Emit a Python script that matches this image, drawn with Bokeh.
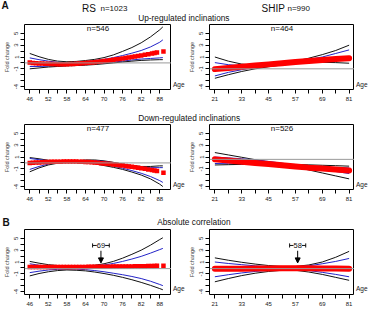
from bokeh.plotting import figure
from bokeh.layouts import column, row
from bokeh.models import Range1d, FixedTicker, Label, Arrow, NormalHead, Span
from bokeh.embed import file_html
from bokeh.resources import INLINE

FONT = "Liberation Sans"
BLACK = "#111111"
BLUE = "#2424c8"
RED = "#ff0000"
GRAY = "#9a9a9a"

# ---------------- data ----------------
# age grids on which the confidence curves are drawn
rs_grid = [46, 49, 52, 55, 58, 61, 64, 67, 70, 73, 76, 79, 82, 85, 88, 89]
ship_grid = [21, 27, 33, 39, 45, 51, 57, 63, 69, 75, 81]

# ages of the fitted RS points (red squares)
rs_pts_age = list(range(46, 83)) + [83.2, 84.3, 85.5, 86.3, 87.1, 89.2]

# RS, up-regulated inclinations
rs_up_black_hi = [1.6, 1.05, 0.6, 0.3, 0.2, 0.25, 0.4, 0.6, 0.9, 1.35, 1.95, 2.6, 3.4, 4.4, 5.6, 6.1]
rs_up_blue_hi = [0.85, 0.55, 0.3, 0.1, 0.05, 0.1, 0.2, 0.4, 0.6, 0.9, 1.25, 1.65, 2.1, 2.7, 3.5, 3.9]
rs_up_blue_lo = [-0.6, -0.6, -0.55, -0.5, -0.45, -0.4, -0.3, -0.15, -0.05, 0.15, 0.3, 0.5, 0.65, 0.75, 0.85, 0.9]
rs_up_black_lo = [-1.0, -0.85, -0.7, -0.6, -0.5, -0.45, -0.38, -0.28, -0.15, 0.0, 0.15, 0.3, 0.42, 0.5, 0.55, 0.55]
rs_up_fit = [0.05, 0.0, -0.04, -0.08, -0.11, -0.14, -0.16, -0.18, -0.2, -0.21, -0.22, -0.22,
             -0.21, -0.19, -0.17, -0.14, -0.1, -0.06, -0.02, 0.03, 0.08, 0.13, 0.19, 0.25,
             0.31, 0.38, 0.45, 0.52, 0.6, 0.68, 0.76, 0.84, 0.92, 1.0, 1.09, 1.18, 1.27,
             1.38, 1.48, 1.6, 1.67, 1.75, 1.95]
rs_up_ref = 0.0
rs_up_n = "n=546"

# SHIP, up-regulated inclinations
ship_up_black_hi = [1.0, 0.3, -0.2, -0.4, -0.35, -0.1, 0.3, 0.8, 1.4, 2.1, 3.0]
ship_up_blue_hi = [0.05, -0.3, -0.5, -0.5, -0.4, -0.15, 0.2, 0.6, 1.0, 1.6, 2.2]
ship_up_blue_lo = [-2.2, -1.6, -1.15, -0.75, -0.45, -0.2, 0.05, 0.25, 0.4, 0.45, 0.5]
ship_up_black_lo = [-2.6, -2.0, -1.45, -1.0, -0.65, -0.35, -0.1, 0.05, 0.1, 0.05, -0.05]
ship_up_fit = [-1.05, -0.85, -0.65, -0.45, -0.25, -0.05, 0.15, 0.33, 0.5, 0.65, 0.8]
ship_up_ref = -1.0
ship_up_n = "n=464"

# RS, down-regulated inclinations
rs_dn_black_hi = [0.9, 0.7, 0.45, 0.3, 0.25, 0.35, 0.5, 0.5, 0.35, 0.1, -0.2, -0.45, -0.6, -0.6, -0.5, -0.5]
rs_dn_blue_hi = [0.75, 0.55, 0.38, 0.28, 0.25, 0.32, 0.42, 0.4, 0.25, 0.0, -0.3, -0.55, -0.72, -0.8, -0.8, -0.8]
rs_dn_blue_lo = [-1.1, -0.6, -0.2, 0.05, 0.15, 0.15, 0.1, -0.05, -0.3, -0.55, -0.9, -1.3, -1.75, -2.3, -3.0, -3.3]
rs_dn_black_lo = [-1.5, -0.85, -0.35, -0.05, 0.1, 0.1, 0.05, -0.15, -0.45, -0.75, -1.1, -1.55, -2.05, -2.7, -3.6, -4.0]
rs_dn_fit = [0.0, 0.03, 0.06, 0.09, 0.12, 0.14, 0.16, 0.18, 0.19, 0.2, 0.21, 0.22,
             0.22, 0.22, 0.22, 0.22, 0.21, 0.19, 0.17, 0.14, 0.1, 0.06, 0.01, -0.04,
             -0.09, -0.14, -0.2, -0.26, -0.32, -0.38, -0.45, -0.52, -0.59, -0.66, -0.74, -0.82, -0.9,
             -1.0, -1.1, -1.22, -1.3, -1.38, -1.65]
rs_dn_ref = 0.0
rs_dn_n = "n=477"

# SHIP, down-regulated inclinations
ship_dn_black_a = [1.75, 1.35, 0.95, 0.55, 0.15, -0.3, -0.75, -1.2, -1.7, -2.2, -2.7]
ship_dn_blue_a = [1.0, 0.85, 0.7, 0.5, 0.25, -0.05, -0.35, -0.7, -1.05, -1.45, -1.8]
ship_dn_blue_b = [-0.1, -0.15, -0.2, -0.25, -0.3, -0.4, -0.5, -0.6, -0.7, -0.78, -0.85]
ship_dn_black_b = [-0.35, -0.3, -0.25, -0.22, -0.2, -0.22, -0.27, -0.33, -0.4, -0.47, -0.55]
ship_dn_fit = [0.6, 0.4, 0.2, 0.0, -0.2, -0.4, -0.6, -0.8, -0.95, -1.1, -1.3]
ship_dn_ref = 0.6
ship_dn_n = "n=526"

# RS, absolute correlation
rs_abs_black_hi = [1.1, 0.8, 0.55, 0.4, 0.3, 0.3, 0.35, 0.45, 0.7, 1.1, 1.65, 2.3, 3.0, 3.85, 4.8, 5.1]
rs_abs_blue_hi = [0.7, 0.45, 0.3, 0.2, 0.15, 0.15, 0.2, 0.3, 0.5, 0.75, 1.1, 1.5, 1.95, 2.5, 3.1, 3.3]
rs_abs_blue_lo = [-0.8, -0.55, -0.35, -0.25, -0.2, -0.2, -0.3, -0.45, -0.65, -0.9, -1.15, -1.45, -1.8, -2.25, -2.8, -3.0]
rs_abs_black_lo = [-1.35, -0.95, -0.65, -0.45, -0.35, -0.4, -0.5, -0.7, -0.95, -1.25, -1.6, -2.0, -2.45, -2.95, -3.5, -3.7]
rs_abs_fit = [0.15, 0.15, 0.15, 0.15, 0.15, 0.15, 0.15, 0.15, 0.15, 0.15, 0.15, 0.15,
              0.15, 0.15, 0.15, 0.16, 0.16, 0.17, 0.17, 0.18, 0.18, 0.19, 0.19, 0.2,
              0.2, 0.21, 0.21, 0.22, 0.22, 0.23, 0.23, 0.24, 0.25, 0.25, 0.26, 0.27, 0.28,
              0.3, 0.31, 0.33, 0.34, 0.35, 0.38]
rs_abs_ref = -0.12
rs_peak = 69
rs_peak_span = (66.3, 71.7)

# SHIP, absolute correlation
ship_abs_black_a = [1.7, 1.3, 0.95, 0.65, 0.4, 0.25, 0.25, 0.5, 1.0, 1.8, 2.8]
ship_abs_blue_a = [1.0, 0.75, 0.55, 0.35, 0.2, 0.1, 0.15, 0.35, 0.7, 1.1, 1.6]
ship_abs_blue_b = [-1.5, -1.15, -0.85, -0.6, -0.4, -0.25, -0.25, -0.45, -0.75, -1.1, -1.5]
ship_abs_black_b = [-2.35, -1.8, -1.3, -0.9, -0.6, -0.4, -0.4, -0.7, -1.1, -1.6, -2.1]
ship_abs_fit = [-0.15, -0.15, -0.14, -0.12, -0.1, -0.07, -0.05, -0.07, -0.1, -0.12, -0.14]
ship_abs_ref = -0.12
ship_peak = 58
ship_peak_span = (54.4, 61.6)

# axis ticks
rs_ticks = list(range(46, 89, 3))
rs_tick_labels = [46, 52, 58, 64, 70, 76, 82, 88]
ship_ticks = list(range(21, 82, 6))
ship_tick_labels = [21, 33, 45, 57, 69, 81]
y_ticks = list(range(-4, 6))
y_tick_labels = [5, 3, 1, -1, -4]

# ---------------- layout constants ----------------
Y_LO, Y_HI = -4.5, 6.5
FRAME_H = 65
RS_X = (44.3, 91.8)
SHIP_X = (18.6, 83.4)
FRAME_W = 147
GAP_W = 14


def blank(width, height):
    b = figure(width=width, height=height, x_range=Range1d(0, width), y_range=Range1d(height, 0),
               output_backend="svg", toolbar_location=None, x_axis_location=None,
               y_axis_location=None, min_border=0)
    b.outline_line_color = None
    b.grid.visible = False
    return b


def header(height, labels):
    h = blank(369, height)
    for x, y, txt, size, style in labels:
        h.add_layout(Label(x=x, y=y, text=txt, text_font=FONT, text_font_size=size,
                           text_font_style=style, text_baseline="middle", text_align="left",
                           text_color="#111111"))
    return h


def age_strip(b_bottom):
    # narrow strip right of a panel carrying the "Age" axis title
    s = blank(GAP_W, FRAME_H + b_bottom)
    s.add_layout(Label(x=1.5, y=FRAME_H + 11, text="Age", text_font=FONT,
                       text_font_size="6.5px", text_baseline="middle", text_align="left",
                       text_color="#222222"))
    return s


def panel(xr, ticks, tick_labels, b_left, b_bottom):
    p = figure(width=b_left + FRAME_W, height=FRAME_H + b_bottom, x_range=Range1d(*xr),
               y_range=Range1d(Y_LO, Y_HI), output_backend="svg", toolbar_location=None,
               min_border_left=b_left, min_border_right=0, min_border_top=0,
               min_border_bottom=b_bottom)
    p.grid.visible = False
    p.outline_line_color = "black"
    p.outline_line_width = 1
    p.outline_line_alpha = 1

    p.xaxis.ticker = FixedTicker(ticks=ticks)
    p.xaxis.major_label_overrides = {t: (str(t) if t in tick_labels else "") for t in ticks}
    p.yaxis.ticker = FixedTicker(ticks=y_ticks)
    p.yaxis.major_label_overrides = {t: (str(t) if t in y_tick_labels else "") for t in y_ticks}
    p.yaxis.major_label_orientation = "vertical"
    p.yaxis.axis_label = "Fold change"
    p.yaxis.axis_label_text_font = FONT
    p.yaxis.axis_label_text_font_size = "5.5px"
    p.yaxis.axis_label_text_font_style = "normal"
    p.yaxis.axis_label_standoff = 2
    for ax in (p.xaxis, p.yaxis):
        ax.axis_line_color = None
        ax.major_tick_out = 4
        ax.major_tick_in = 0
        ax.major_tick_line_color = "black"
        ax.minor_tick_line_color = None
        ax.major_label_standoff = 2
        ax.major_label_text_font = FONT
        ax.major_label_text_font_size = "6px"
        ax.major_label_text_color = "#222222"
    p.xaxis.major_label_standoff = 3
    return p


def curves(p, grid, lines, fit_x, fit_y, ref, squares):
    p.add_layout(Span(location=ref, dimension="width", line_color=GRAY, line_width=1))
    colors = [BLACK, BLUE, BLUE, BLACK]
    for ys, c in zip(lines, colors):
        p.line(grid, ys, line_color=c, line_width=1)
    if squares:
        p.scatter(fit_x, fit_y, marker="square", size=4.5, fill_color=RED, line_color=None)
    else:
        p.line(fit_x, fit_y, line_color=RED, line_width=6, line_cap="round")


def n_label(p, xr, txt):
    p.add_layout(Label(x=(xr[0] + xr[1]) / 2, y=5.75, text=txt, text_font=FONT,
                       text_font_size="8px", text_align="center", text_baseline="middle",
                       text_color="#111111"))


def peak_mark(p, age, span):
    p.segment(x0=[span[0]], y0=[3.8], x1=[span[1]], y1=[3.8], line_color=BLACK, line_width=1)
    p.segment(x0=[span[0], span[1]], y0=[3.45, 3.45], x1=[span[0], span[1]], y1=[4.15, 4.15],
              line_color=BLACK, line_width=1)
    p.add_layout(Label(x=age, y=3.8, text=str(age), text_font=FONT, text_font_size="7.5px",
                       text_align="center", text_baseline="middle", text_color="#111111",
                       background_fill_color="white"))
    p.add_layout(Arrow(end=NormalHead(size=5, fill_color="black", line_color="black"),
                       x_start=age, y_start=2.9, x_end=age, y_end=0.85,
                       line_color="black", line_width=1))


# ---------------- headers ----------------
h1 = header(24, [(1, 4.5, "A", "10px", "bold"),
                 (81.5, 7.5, "RS", "10px", "normal"),
                 (100, 7.8, "n=1023", "8px", "normal"),
                 (261, 7.5, "SHIP", "10px", "normal"),
                 (287, 7.8, "n=990", "8px", "normal"),
                 (137.7, 17.3, "Up-regulated inclinations", "8.3px", "normal")])
h2 = header(18, [(137.7, 11.5, "Down-regulated inclinations", "8.3px", "normal")])
h3 = header(23, [(2, 16, "B", "10px", "bold"),
                 (156.7, 15.7, "Absolute correlation", "8.3px", "normal")])

# ---------------- panels ----------------
p1 = panel(RS_X, rs_ticks, rs_tick_labels, 24, 17)
curves(p1, rs_grid, [rs_up_black_hi, rs_up_blue_hi, rs_up_blue_lo, rs_up_black_lo],
       rs_pts_age, rs_up_fit, rs_up_ref, True)
n_label(p1, RS_X, rs_up_n)

p2 = panel(SHIP_X, ship_ticks, ship_tick_labels, 22, 17)
curves(p2, ship_grid, [ship_up_black_hi, ship_up_blue_hi, ship_up_blue_lo, ship_up_black_lo],
       ship_grid, ship_up_fit, ship_up_ref, False)
n_label(p2, SHIP_X, ship_up_n)

p3 = panel(RS_X, rs_ticks, rs_tick_labels, 24, 17)
curves(p3, rs_grid, [rs_dn_black_hi, rs_dn_blue_hi, rs_dn_blue_lo, rs_dn_black_lo],
       rs_pts_age, rs_dn_fit, rs_dn_ref, True)
n_label(p3, RS_X, rs_dn_n)

p4 = panel(SHIP_X, ship_ticks, ship_tick_labels, 22, 17)
curves(p4, ship_grid, [ship_dn_black_a, ship_dn_blue_a, ship_dn_blue_b, ship_dn_black_b],
       ship_grid, ship_dn_fit, ship_dn_ref, False)
n_label(p4, SHIP_X, ship_dn_n)

p5 = panel(RS_X, rs_ticks, rs_tick_labels, 24, 19)
curves(p5, rs_grid, [rs_abs_black_hi, rs_abs_blue_hi, rs_abs_blue_lo, rs_abs_black_lo],
       rs_pts_age, rs_abs_fit, rs_abs_ref, True)
peak_mark(p5, rs_peak, rs_peak_span)

p6 = panel(SHIP_X, ship_ticks, ship_tick_labels, 22, 19)
curves(p6, ship_grid, [ship_abs_black_a, ship_abs_blue_a, ship_abs_blue_b, ship_abs_black_b],
       ship_grid, ship_abs_fit, ship_abs_ref, False)
peak_mark(p6, ship_peak, ship_peak_span)

layout = column(h1,
                row(p1, age_strip(17), p2, age_strip(17)),
                h2,
                row(p3, age_strip(17), p4, age_strip(17)),
                h3,
                row(p5, age_strip(19), p6, age_strip(19)))

open("out.html", "w").write(file_html(layout, INLINE))
